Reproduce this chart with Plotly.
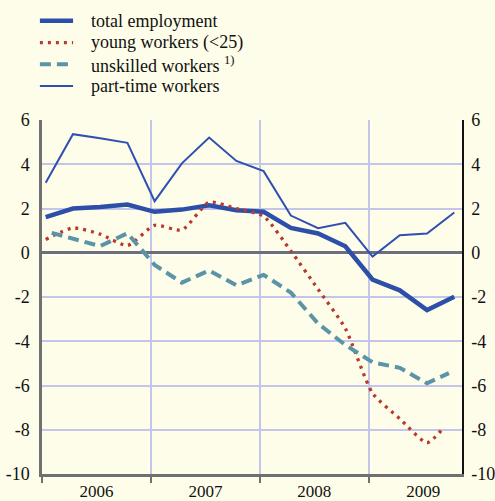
import plotly.graph_objects as go

# ---------------- data ----------------
quarters = ["2006Q1", "2006Q2", "2006Q3", "2006Q4",
            "2007Q1", "2007Q2", "2007Q3", "2007Q4",
            "2008Q1", "2008Q2", "2008Q3", "2008Q4",
            "2009Q1", "2009Q2", "2009Q3", "2009Q4"]

total_employment = [1.61, 2.00, 2.07, 2.18, 1.85, 1.95, 2.15, 1.92,
                    1.85, 1.12, 0.87, 0.29, -1.21, -1.70, -2.59, -1.99]
part_time = [3.16, 5.36, 5.18, 4.97, 2.33, 4.04, 5.21, 4.15,
             3.69, 1.68, 1.11, 1.35, -0.17, 0.79, 0.87, 1.82]

young_x = [2006.034, 2006.284, 2006.534, 2006.784, 2007.034, 2007.284,
           2007.534, 2007.784, 2008.034, 2008.284, 2008.534, 2008.784,
           2009.034, 2009.284, 2009.534, 2009.683]
young = [0.60, 1.12, 0.84, 0.33, 1.24, 1.03, 2.28, 2.00,
         1.65, 0.08, -1.65, -3.42, -6.35, -7.50, -8.59, -7.93]

unskilled_x = [2006.089, 2006.534, 2006.784, 2007.034, 2007.284, 2007.534,
               2007.784, 2008.034, 2008.284, 2008.534, 2008.784, 2009.034,
               2009.284, 2009.534, 2009.735]
unskilled = [0.90, 0.30, 0.88, -0.55, -1.35, -0.80, -1.47, -1.00,
             -1.80, -3.20, -4.17, -4.95, -5.20, -5.90, -5.44]

year_labels = ["2006", "2007", "2008", "2009"]
year_starts = [2006, 2007, 2008, 2009]
y_ticks = [6, 4, 2, 0, -2, -4, -6, -8, -10]
y_tick_text = ["6", "4", "2", "0", "-2", "-4", "-6", "-8", "-10"]

legend_labels = ["total employment", "young workers (<25)",
                 "unskilled workers <sup>1)</sup>", "part-time workers"]


def q_to_x(q):
    year = int(q[:4])
    n = int(q[-1])
    return year + (n - 1) / 4 + 0.034


qx = [q_to_x(q) for q in quarters]

# ---------------- styles ----------------
BG = "#fefde9"
GRID = "#c3c6ea"
AXIS = "#707070"
BLUE = "#2d4fa8"
BLUE_THIN = "#2f50b2"
RED = "#b63a2f"
TEAL = "#5b93a7"
FONT = "Liberation Serif, 'Times New Roman', Times, serif"
TXT = "#111111"

styles = [
    dict(color=BLUE, width=4.5),
    dict(color=RED, width=3.3, dash="3px,5px"),
    dict(color=TEAL, width=4, dash="11px,6px"),
    dict(color=BLUE_THIN, width=2),
]

fig = go.Figure()
fig.add_trace(go.Scatter(x=qx, y=total_employment, mode="lines",
                         name=legend_labels[0], line=styles[0]))
fig.add_trace(go.Scatter(x=young_x, y=young, mode="lines",
                         name=legend_labels[1],
                         line=dict(**styles[1], shape="spline", smoothing=0.6)))
fig.add_trace(go.Scatter(x=unskilled_x, y=unskilled, mode="lines",
                         name=legend_labels[2], line=styles[2]))
fig.add_trace(go.Scatter(x=qx, y=part_time, mode="lines", yaxis="y2",
                         name=legend_labels[3], line=styles[3]))

# light halo under the zero line
fig.add_hline(y=0, line=dict(color="#ffffff", width=6), layer="below")

# manual legend (paper coordinates)
leg_rows = [1.2805, 1.2184, 1.1573, 1.096]
for lbl, st, yy in zip(legend_labels, styles, leg_rows):
    fig.add_shape(type="line", xref="paper", yref="paper",
                  x0=-0.005, x1=0.074, y0=yy, y1=yy, line=st)
    fig.add_annotation(xref="paper", yref="paper", x=0.112, y=yy,
                       xanchor="left", yanchor="middle", text=lbl,
                       showarrow=False,
                       font=dict(family=FONT, size=18, color=TXT))

fig.update_layout(
    width=495, height=501,
    margin=dict(l=42, r=33, t=120, b=27, autoexpand=False),
    paper_bgcolor=BG, plot_bgcolor=BG,
    font=dict(family=FONT, size=18, color=TXT),
    showlegend=False,
    hovermode=False,
    xaxis=dict(
        range=[2006, 2009.855],
        tickmode="array",
        tickvals=[y + 0.5 for y in year_starts],
        ticktext=year_labels,
        ticks="", showgrid=False, zeroline=False,
        showline=True, linecolor=AXIS, linewidth=2.5,
        tickfont=dict(family=FONT, size=17, color=TXT),
        ticklabelstandoff=0, automargin=False,
        minor=dict(tickmode="array", tickvals=year_starts, ticks="outside",
                   ticklen=6, tickwidth=2, tickcolor=AXIS,
                   showgrid=True, gridcolor=GRID, gridwidth=1.5),
        fixedrange=True,
    ),
    yaxis=dict(
        range=[-10, 6], tickmode="array", tickvals=y_ticks,
        ticktext=y_tick_text,
        ticks="", showgrid=True, gridcolor=GRID, gridwidth=1.5,
        zeroline=True, zerolinecolor=AXIS, zerolinewidth=2.5,
        showline=True, linecolor=AXIS, linewidth=2.5,
        tickfont=dict(family=FONT, size=18, color=TXT),
        ticklabelstandoff=6, automargin=False, fixedrange=True,
    ),
    yaxis2=dict(
        range=[-10, 6], tickmode="array", tickvals=y_ticks,
        ticktext=y_tick_text,
        overlaying="y", side="right", anchor="x",
        ticks="", showgrid=False, zeroline=False,
        showline=True, linecolor=TXT, linewidth=1.5,
        tickfont=dict(family=FONT, size=18, color=TXT),
        ticklabelstandoff=4, automargin=False, fixedrange=True,
    ),
)

fig.write_html("out.html",
               config={"displayModeBar": False},
               post_script="document.body.style.margin='0';"
                           "document.body.style.background='" + BG + "';")
